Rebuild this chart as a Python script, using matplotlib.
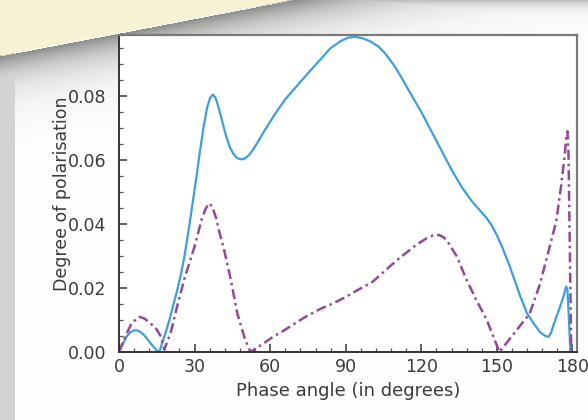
import numpy as np
import matplotlib
matplotlib.use('Agg')
import matplotlib.pyplot as plt
from matplotlib.ticker import MultipleLocator

## data ##

# solid blue curve
fase_azul = [0, 1.5, 3, 4.5, 6, 7.5, 9, 10.5, 12, 13.5, 15, 16, 17, 18.5,
             20, 21.5, 23, 24.5, 26, 28, 30.6, 32, 33.5, 35, 36.2, 37.3,
             38.3, 39.5, 41, 42.5, 44, 45.5, 47, 48.5, 50, 51.5, 53, 55, 58,
             62, 66, 71.5, 76, 80, 84, 88, 91, 94, 97, 100, 103, 106, 109,
             112, 115, 120, 124, 128, 132, 136, 140, 143, 146, 148, 150, 152,
             155, 159, 162, 165, 167, 169, 170.5, 171.5, 172.5, 173.6, 175,
             176.5, 177.5, 178, 178.5, 179, 179.2]
pol_azul = [0, 0.0025, 0.0048, 0.0062, 0.0068, 0.0067, 0.006, 0.0048, 0.0033,
            0.0018, 0.0005, 0, 0.0025, 0.006, 0.010, 0.0145, 0.019, 0.024,
            0.030, 0.040, 0.054, 0.062, 0.070, 0.0765, 0.0795, 0.0805, 0.0795,
            0.0765, 0.072, 0.0675, 0.064, 0.0618, 0.0606, 0.0602, 0.0605,
            0.0615, 0.063, 0.0655, 0.0695, 0.0745, 0.079, 0.084, 0.088,
            0.0915, 0.095, 0.0972, 0.0983, 0.0985, 0.098, 0.097, 0.0955,
            0.093, 0.0898, 0.086, 0.0818, 0.075, 0.069, 0.063, 0.057, 0.0516,
            0.0472, 0.0445, 0.0418, 0.0395, 0.0365, 0.033, 0.027, 0.018,
            0.012, 0.0085, 0.0063, 0.0051, 0.0047, 0.006, 0.0085, 0.011,
            0.014, 0.0175, 0.0205, 0.0195, 0.012, 0.003, 0]

# dash-dot purple curve
fase_violeta = [0, 2, 5, 8, 10, 12.5, 15, 16.5, 18, 20.5, 23, 26, 30, 33,
                34.5, 35.8, 37, 38.5, 40, 41.7, 44, 47, 50, 52.2, 55, 58, 61,
                65, 70, 74, 80, 85, 90, 95, 100.6, 105, 110, 114, 118, 122,
                124.5, 127, 129, 131, 134, 138, 142, 146, 149, 151, 155, 159,
                163, 167, 170, 173.6, 175.5, 177, 177.5, 178, 178.4, 179, 179.5]
pol_violeta = [0, 0.004, 0.009, 0.011, 0.0105, 0.009, 0.007, 0.005, 0.0008,
               0.006, 0.014, 0.023, 0.033, 0.042, 0.045, 0.0465, 0.0455,
               0.042, 0.037, 0.032, 0.024, 0.012, 0.004, 0, 0.0015, 0.003,
               0.0047, 0.0065, 0.009, 0.011, 0.0135, 0.0152, 0.0172, 0.0195,
               0.0219, 0.025, 0.0285, 0.031, 0.0335, 0.0355, 0.0364, 0.0366,
               0.0358, 0.0338, 0.030, 0.0225, 0.016, 0.010, 0.004, 0, 0.004,
               0.008, 0.012, 0.021, 0.030, 0.041, 0.052, 0.062, 0.067, 0.069,
               0.063, 0.030, 0]

ticks_x = [0, 30, 60, 90, 120, 150, 180]
ticks_y = [0.00, 0.02, 0.04, 0.06, 0.08]

## figure with a bit of the photo background ##

fig = plt.figure(figsize=(5.88, 4.2), dpi=100)
fig.patch.set_facecolor('white')

# background: sticky note on top-left, its shadow and grey borders
alto, ancho = 420, 588
yy, xx = np.mgrid[0:alto, 0:ancho].astype(float)
borde = 56 - 56 * xx / 292
d = yy - borde
oscuro = 0.45 * np.exp(-np.clip(d, 0, None) / 22) * (d >= 0)
oscuro = np.maximum(oscuro, 0.25 * np.exp(-yy / 7))
oscuro = np.maximum(oscuro, 0.17 * (xx < 15))
fondo = np.ones((alto, ancho, 3)) * (1 - oscuro)[..., None]
fondo[d < -1] = [0.97, 0.95, 0.83]

ax_fondo = fig.add_axes([0, 0, 1, 1], zorder=-1)
ax_fondo.imshow(fondo, aspect='auto', interpolation='bilinear')
ax_fondo.axis('off')

ax = fig.add_axes([119 / 588, 68 / 420, 458 / 588, 317 / 420])
ax.set_facecolor('white')

ax.plot(fase_azul, pol_azul, color='#3d9fde', lw=1.6, solid_joinstyle='round')
ax.plot(fase_violeta, pol_violeta, color='#95479b', lw=1.8,
        dashes=(4, 1.6, 1, 1.6))

ax.set_xlim(0, 181.8)
ax.set_ylim(0, 0.0991)
ax.set_xticks(ticks_x)
ax.set_yticks(ticks_y)
ax.set_yticklabels(['%.2f' % v for v in ticks_y])
ax.xaxis.set_minor_locator(MultipleLocator(6))
ax.yaxis.set_minor_locator(MultipleLocator(0.005))
ax.tick_params(which='major', direction='in', length=6, width=1.1,
               color='#333333', labelsize=12.5, labelcolor='#3a3a3a',
               top=False, right=False)
ax.tick_params(axis='y', which='major', pad=9)
ax.tick_params(axis='x', which='major', pad=4)
ax.tick_params(which='minor', direction='in', length=3, width=0.9,
               color='#555555', top=False, right=False)

for lado in ['left', 'bottom']:
    ax.spines[lado].set_color('#333333')
    ax.spines[lado].set_linewidth(1.4)
for lado in ['top', 'right']:
    ax.spines[lado].set_color('#7a7a7a')
    ax.spines[lado].set_linewidth(1.6)

ax.set_xlabel('Phase angle (in degrees)', fontsize=13, color='#3a3a3a', labelpad=5)
ax.set_ylabel('Degree of polarisation', fontsize=12.5, color='#3a3a3a', labelpad=-2)

fig.savefig('out.png', dpi=100)
